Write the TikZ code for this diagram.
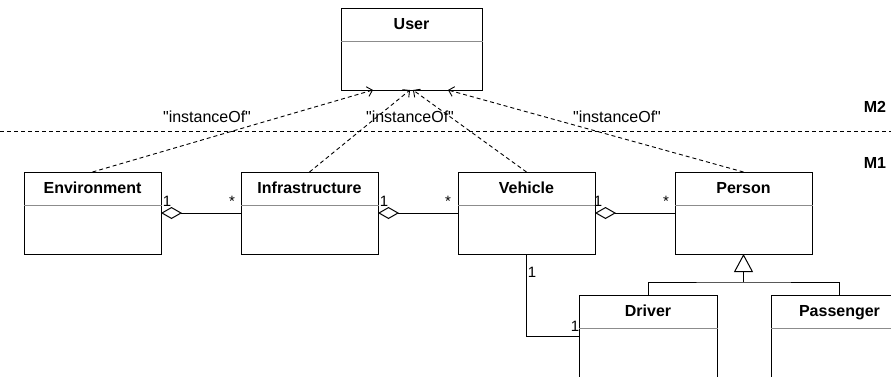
\documentclass[tikz,border=0pt]{standalone}
\usepackage{fontspec}
\setmainfont{Liberation Sans}[Ligatures=TeXOff]
\usetikzlibrary{arrows.meta,calc}

\begin{document}
\begin{tikzpicture}[x=1pt,y=-1pt,
  umlbox/.style={draw,line width=1pt,minimum width=137pt,minimum height=82pt,anchor=north west,inner sep=0pt,outer sep=0pt},
  ttl/.style={font=\fontsize{16}{19}\selectfont\bfseries,anchor=base,inner sep=0pt},
  sepline/.style={draw=black!45,line width=1pt},
  lbl/.style={font=\fontsize{16}{19}\selectfont,anchor=base,inner sep=0pt},
  mult/.style={font=\fontsize{15}{18}\selectfont,anchor=base,inner sep=0pt},
  inst/.style={draw,line width=0.9pt,dash pattern=on 4pt off 3pt,-{Straight Barb[length=5pt,width=10pt]}},
  agg/.style={draw,line width=1pt,{Diamond[open,length=21pt,width=12pt]}-},
  assoc/.style={draw,line width=1pt},
  gen/.style={draw,line width=1pt,-{Triangle[open,length=18pt,width=19pt]}},
  levelline/.style={draw,line width=1pt,dash pattern=on 4pt off 3pt},
  level/.style={font=\fontsize{16}{19}\selectfont\bfseries,anchor=base,inner sep=0pt}
]
\path[use as bounding box] (0,0) rectangle (891,376);
\clip (0,0) rectangle (891,376);

% boxes
\node[umlbox,minimum width=141pt] (user) at (341,8) {};
\node[umlbox] (env) at (24,172) {};
\node[umlbox] (infra) at (241,172) {};
\node[umlbox] (veh) at (458,172) {};
\node[umlbox] (per) at (675,172) {};
\node[umlbox,minimum width=138pt] (drv) at (579,295) {};
\node[umlbox] (pas) at (771,295) {};

% titles and header separators
\foreach \b/\t in {user/User,env/Environment,infra/Infrastructure,veh/Vehicle,per/Person,drv/Driver,pas/Passenger}{
  \node[ttl] (\b-title) at ($(\b.north)+(0,21.3)$) {\t};
  \draw[sepline] ($(\b.north west)+(0,33)$) -- ($(\b.north east)+(1,33)$);
}

% level separator
\coordinate (lvlL) at (0,131);
\coordinate (lvlR) at (891,131);
\draw[levelline] (lvlL) -- (lvlR);
\node[level] (m2) at (875,112) {M2};
\node[level] (m1) at (875,168) {M1};

% instanceOf
\draw[inst] (env.north) -- ([xshift=-38.5pt]user.south);
\draw[inst] (infra.north) -- ([xshift=-1.5pt]user.south);
\draw[inst] (veh.north) -- ([xshift=1.5pt]user.south);
\draw[inst] (per.north) -- ([xshift=36.5pt]user.south);
\node[lbl] (l1) at (207,122) {"instanceOf"};
\node[lbl] (l2) at (410,122) {"instanceOf"};
\node[lbl] (l3) at (617,122) {"instanceOf"};

% aggregations
\draw[agg] (env.east) -- (infra.west);
\draw[agg] (infra.east) -- (veh.west);
\draw[agg] (veh.east) -- (per.west);
\node[mult] (m-env) at (167,206) {1};
\node[mult] (m-infra-a) at (232,206) {*};
\node[mult] (m-infra-b) at (384,206) {1};
\node[mult] (m-veh-a) at (448,206) {*};
\node[mult] (m-veh-b) at (598,206) {1};
\node[mult] (m-per) at (666,206) {*};

% vehicle - driver
\draw[assoc] (veh.south) |- (drv.west);
\node[mult] (m-veh-c) at (532,277) {1};
\node[mult] (m-drv) at (575,331) {1};

% generalization
\coordinate (gj) at ($(per.south)+(0,28)$);
\draw[assoc] (drv.north) |- (gj) -| (pas.north);
\draw[gen] (gj) -- (per.south);
\end{tikzpicture}
\end{document}
